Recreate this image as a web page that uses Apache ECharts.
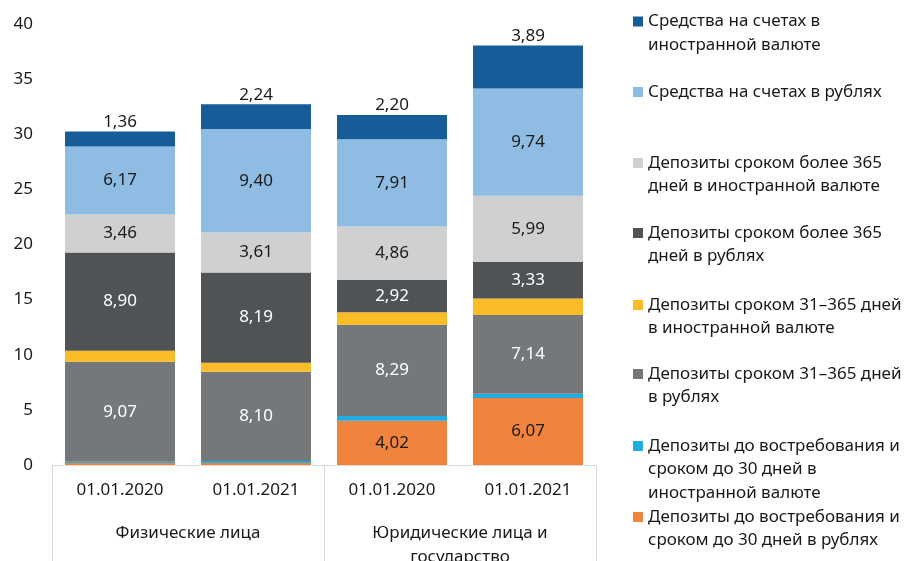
<!DOCTYPE html>
<html>
<head>
    <meta charset="UTF-8">
    <title>Депозиты и средства на счетах</title>
    <script src="https://cdn.jsdelivr.net/npm/echarts@6/dist/echarts.min.js"></script>
</head>
<body style="margin:0">

<div id="main" style="width: 909px;height:561px"></div>

<script type="text/javascript">
    // категории
    var dates = ['01.01.2020', '01.01.2021', '01.01.2020', '01.01.2021'];
    var groups = ['Физические лица', 'Юридические лица и\nгосударство'];

    // ряды снизу вверх
    var rubShort = [0.18, 0.18, 4.02, 6.07];
    var fxShort = [0.12, 0.18, 0.42, 0.39];
    var rubMid = [9.07, 8.10, 8.29, 7.14];
    var fxMid = [1.00, 0.82, 1.12, 1.50];
    var rubLong = [8.90, 8.19, 2.92, 3.33];
    var fxLong = [3.46, 3.61, 4.86, 5.99];
    var rubAcc = [6.17, 9.40, 7.91, 9.74];
    var fxAcc = [1.36, 2.24, 2.20, 3.89];

    var seriesNames = [
        'Депозиты до востребования и сроком до 30 дней в рублях',
        'Депозиты до востребования и сроком до 30 дней в иностранной валюте',
        'Депозиты сроком 31–365 дней в рублях',
        'Депозиты сроком 31–365 дней в иностранной валюте',
        'Депозиты сроком более 365 дней в рублях',
        'Депозиты сроком более 365 дней в иностранной валюте',
        'Средства на счетах в рублях',
        'Средства на счетах в иностранной валюте'
    ];
    // подписи легенды с переносами
    var legendLines = [
        ['Депозиты до востребования и', 'сроком до 30 дней в рублях'],
        ['Депозиты до востребования и', 'сроком до 30 дней в', 'иностранной валюте'],
        ['Депозиты сроком 31–365 дней', 'в рублях'],
        ['Депозиты сроком 31–365 дней', 'в иностранной валюте'],
        ['Депозиты сроком более 365', 'дней в рублях'],
        ['Депозиты сроком более 365', 'дней в иностранной валюте'],
        ['Средства на счетах в рублях'],
        ['Средства на счетах в', 'иностранной валюте']
    ];
    var legendCenters = [517, 446, 374, 305, 233, 163, 92, 21.5];

    var values = [rubShort, fxShort, rubMid, fxMid, rubLong, fxLong, rubAcc, fxAcc];
    var colors = ['#f0843c', '#1fade3', '#75787b', '#fbbd26', '#505355', '#d0d0d0', '#8fbce3', '#155c99'];
    var labelShow = [true, false, true, false, true, true, true, true];
    var labelColor = ['#1a1a1a', '#fff', '#fff', '#fff', '#fff', '#1a1a1a', '#1a1a1a', '#1a1a1a'];

    var font = 'Noto Sans';
    var fs = 17;
    var lh = 23.5;

    function fmt(v) {
        return v.toFixed(2).replace('.', ',');
    }

    var myChart = echarts.init(document.getElementById('main'));

    var series = [];
    var legends = [];
    for (var i = 0; i < values.length; i++) {
        series.push({
            name: seriesNames[i],
            type: 'bar',
            stack: 'all',
            barWidth: 110,
            itemStyle: {color: colors[i]},
            label: {
                show: labelShow[i],
                position: i == 7 ? 'top' : 'inside',
                distance: 1,
                color: labelColor[i],
                fontSize: fs,
                fontFamily: font,
                formatter: function (p) {
                    return p.value < 1 ? '' : fmt(p.value);
                }
            },
            data: values[i]
        });
        // пустые строки сверху, чтобы маркер стоял у первой строки
        var n = legendLines[i].length;
        var pre = [];
        for (var k = 1; k < n; k++) pre.push('');
        var txt = pre.concat(legendLines[i]).join('\n');
        var total = (2 * n - 1) * lh;
        legends.push({
            data: [seriesNames[i]],
            orient: 'vertical',
            left: 633,
            top: legendCenters[i] - total / 2,
            padding: 0,
            icon: 'rect',
            itemWidth: 10,
            itemHeight: 10,
            selectedMode: false,
            formatter: (function (t) { return function () { return t; }; })(txt),
            textStyle: {fontSize: fs, fontFamily: font, color: '#1a1a1a', lineHeight: lh}
        });
    }

    option = {
        animation: false,
        legend: legends,
        grid: {left: 52, right: 313, top: 24, bottom: 96, containLabel: false, outerBoundsMode: 'none'},
        xAxis: [
            {
                type: 'category',
                data: dates,
                axisLine: {lineStyle: {color: '#d9d9d9'}},
                axisTick: {show: false},
                axisLabel: {margin: 17, fontSize: fs, fontFamily: font, color: '#1a1a1a'}
            },
            {
                type: 'category',
                data: groups,
                position: 'bottom',
                axisLine: {show: false},
                axisTick: {show: true, length: 96, interval: 0, lineStyle: {color: '#d9d9d9'}},
                axisLabel: {margin: 56, interval: 0, fontSize: fs, lineHeight: 24, fontFamily: font, color: '#1a1a1a'}
            }
        ],
        yAxis: {
            type: 'value',
            min: 0,
            max: 40,
            interval: 5,
            axisLine: {show: false},
            axisTick: {show: false},
            splitLine: {show: false},
            axisLabel: {margin: 19, fontSize: fs, fontFamily: font, color: '#1a1a1a'}
        },
        series: series
    };

    myChart.setOption(option);
</script>
</body>
</html>
